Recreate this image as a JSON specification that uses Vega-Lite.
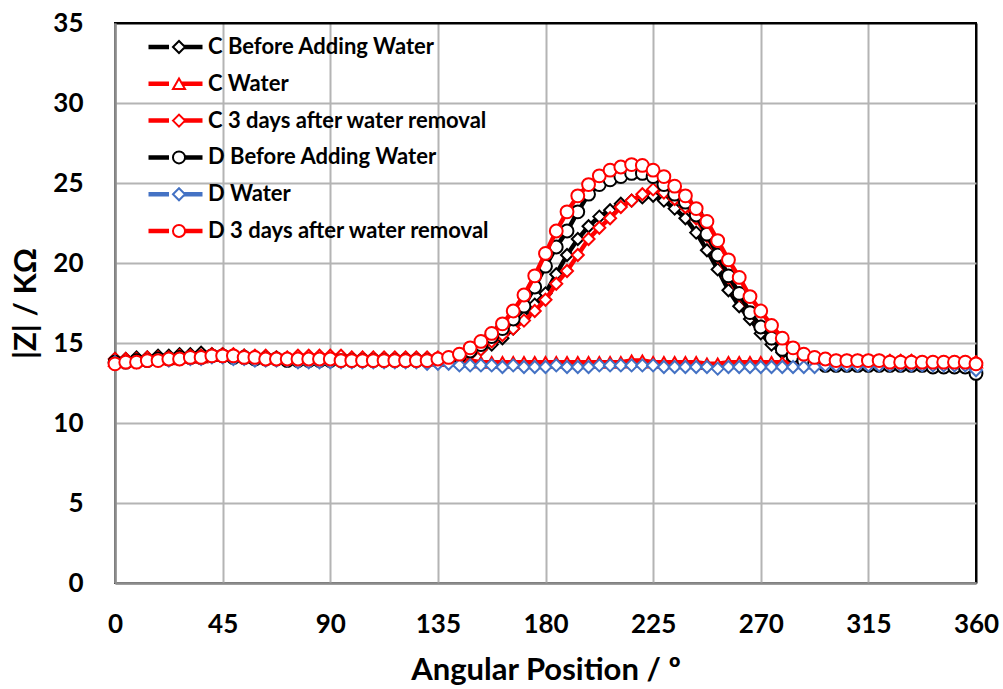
{
  "$schema": "https://vega.github.io/schema/vega-lite/v6.json",
  "width": 861,
  "height": 560,
  "autosize": {"type": "none"},
  "padding": {"left": 115, "top": 23, "right": 27, "bottom": 106},
  "background": "white",
  "config": {
    "view": {"stroke": "black", "strokeWidth": 2},
    "font": "Lato",
    "axis": {
      "labelFont": "Lato", "labelFontWeight": "bold", "labelFontSize": 26, "labelColor": "black",
      "titleFont": "Lato", "titleFontWeight": "bold", "titleFontSize": 31, "titleColor": "black",
      "ticks": false, "tickSize": 0, "labelFlush": false, "labelOverlap": false,
      "gridWidth": 2,
      "domainColor": "#8c8c8c", "domainWidth": 2.5
    }
  },
  "data": {"values": [
    {"angle": 0, "cb": 14.0, "cw": 13.9, "ca": 14.0, "db": 13.8, "dw": 13.8, "da": 13.7},
    {"angle": 4.5, "cb": 14.0, "cw": 13.9, "ca": 14.0, "db": 13.8, "dw": 13.8, "da": 13.8},
    {"angle": 9, "cb": 14.1, "cw": 13.9, "ca": 14.0, "db": 13.9, "dw": 13.8, "da": 13.8},
    {"angle": 13.5, "cb": 14.1, "cw": 14.0, "ca": 14.1, "db": 13.9, "dw": 13.9, "da": 13.9},
    {"angle": 18, "cb": 14.2, "cw": 14.0, "ca": 14.1, "db": 14.0, "dw": 13.9, "da": 13.9},
    {"angle": 22.5, "cb": 14.2, "cw": 14.0, "ca": 14.1, "db": 14.0, "dw": 13.9, "da": 14.0},
    {"angle": 27, "cb": 14.3, "cw": 14.1, "ca": 14.2, "db": 14.1, "dw": 14.0, "da": 14.0},
    {"angle": 31.5, "cb": 14.3, "cw": 14.1, "ca": 14.2, "db": 14.1, "dw": 14.0, "da": 14.1},
    {"angle": 36, "cb": 14.4, "cw": 14.1, "ca": 14.2, "db": 14.1, "dw": 14.0, "da": 14.1},
    {"angle": 40.5, "cb": 14.3, "cw": 14.2, "ca": 14.3, "db": 14.2, "dw": 14.1, "da": 14.2},
    {"angle": 45, "cb": 14.3, "cw": 14.2, "ca": 14.3, "db": 14.2, "dw": 14.1, "da": 14.2},
    {"angle": 49.5, "cb": 14.2, "cw": 14.2, "ca": 14.3, "db": 14.1, "dw": 14.0, "da": 14.2},
    {"angle": 54, "cb": 14.2, "cw": 14.2, "ca": 14.2, "db": 14.1, "dw": 14.0, "da": 14.1},
    {"angle": 58.5, "cb": 14.1, "cw": 14.1, "ca": 14.2, "db": 14.0, "dw": 13.9, "da": 14.1},
    {"angle": 63, "cb": 14.1, "cw": 14.1, "ca": 14.2, "db": 14.0, "dw": 13.9, "da": 14.0},
    {"angle": 67.5, "cb": 14.1, "cw": 14.1, "ca": 14.1, "db": 14.0, "dw": 13.9, "da": 14.0},
    {"angle": 72, "cb": 14.0, "cw": 14.1, "ca": 14.1, "db": 13.9, "dw": 13.9, "da": 14.0},
    {"angle": 76.5, "cb": 14.0, "cw": 14.1, "ca": 14.2, "db": 13.9, "dw": 13.8, "da": 14.0},
    {"angle": 81, "cb": 14.0, "cw": 14.1, "ca": 14.2, "db": 13.9, "dw": 13.8, "da": 14.0},
    {"angle": 85.5, "cb": 14.0, "cw": 14.2, "ca": 14.2, "db": 13.9, "dw": 13.8, "da": 14.0},
    {"angle": 90, "cb": 14.0, "cw": 14.2, "ca": 14.2, "db": 13.9, "dw": 13.8, "da": 14.0},
    {"angle": 94.5, "cb": 14.0, "cw": 14.1, "ca": 14.2, "db": 13.9, "dw": 13.8, "da": 13.9},
    {"angle": 99, "cb": 13.9, "cw": 14.1, "ca": 14.1, "db": 13.9, "dw": 13.8, "da": 13.9},
    {"angle": 103.5, "cb": 13.9, "cw": 14.1, "ca": 14.1, "db": 13.9, "dw": 13.8, "da": 13.9},
    {"angle": 108, "cb": 13.9, "cw": 14.1, "ca": 14.1, "db": 13.9, "dw": 13.8, "da": 13.9},
    {"angle": 112.5, "cb": 13.9, "cw": 14.0, "ca": 14.1, "db": 13.9, "dw": 13.8, "da": 13.9},
    {"angle": 117, "cb": 14.0, "cw": 14.0, "ca": 14.1, "db": 13.9, "dw": 13.8, "da": 13.9},
    {"angle": 121.5, "cb": 14.0, "cw": 14.0, "ca": 14.1, "db": 13.9, "dw": 13.8, "da": 13.9},
    {"angle": 126, "cb": 14.0, "cw": 14.0, "ca": 14.1, "db": 13.9, "dw": 13.8, "da": 13.9},
    {"angle": 130.5, "cb": 14.0, "cw": 14.0, "ca": 14.1, "db": 13.9, "dw": 13.7, "da": 13.9},
    {"angle": 135, "cb": 14.0, "cw": 13.9, "ca": 14.1, "db": 13.9, "dw": 13.7, "da": 14.0},
    {"angle": 139.5, "cb": 14.1, "cw": 13.9, "ca": 14.1, "db": 14.0, "dw": 13.7, "da": 14.1},
    {"angle": 144, "cb": 14.2, "cw": 13.9, "ca": 14.2, "db": 14.2, "dw": 13.6, "da": 14.3},
    {"angle": 148.5, "cb": 14.4, "cw": 13.9, "ca": 14.3, "db": 14.5, "dw": 13.6, "da": 14.7},
    {"angle": 153, "cb": 14.6, "cw": 13.8, "ca": 14.6, "db": 14.9, "dw": 13.6, "da": 15.1},
    {"angle": 157.5, "cb": 14.9, "cw": 13.8, "ca": 15.1, "db": 15.4, "dw": 13.6, "da": 15.6},
    {"angle": 162, "cb": 15.3, "cw": 13.8, "ca": 15.5, "db": 15.9, "dw": 13.5, "da": 16.2},
    {"angle": 166.5, "cb": 15.9, "cw": 13.8, "ca": 15.9, "db": 16.5, "dw": 13.6, "da": 17.0},
    {"angle": 171, "cb": 16.6, "cw": 13.8, "ca": 16.4, "db": 17.3, "dw": 13.5, "da": 18.0},
    {"angle": 175.5, "cb": 17.4, "cw": 13.8, "ca": 17.0, "db": 18.5, "dw": 13.5, "da": 19.2},
    {"angle": 180, "cb": 18.1, "cw": 13.8, "ca": 17.7, "db": 19.8, "dw": 13.5, "da": 20.6},
    {"angle": 184.5, "cb": 19.3, "cw": 13.8, "ca": 18.7, "db": 21.0, "dw": 13.6, "da": 22.0},
    {"angle": 189, "cb": 20.5, "cw": 13.8, "ca": 19.5, "db": 22.0, "dw": 13.5, "da": 23.2},
    {"angle": 193.5, "cb": 21.5, "cw": 13.8, "ca": 20.5, "db": 23.2, "dw": 13.5, "da": 24.2},
    {"angle": 198, "cb": 22.3, "cw": 13.8, "ca": 21.5, "db": 24.3, "dw": 13.5, "da": 24.9},
    {"angle": 202.5, "cb": 22.9, "cw": 13.8, "ca": 22.2, "db": 24.9, "dw": 13.6, "da": 25.45},
    {"angle": 207, "cb": 23.3, "cw": 13.8, "ca": 22.8, "db": 25.2, "dw": 13.6, "da": 25.8},
    {"angle": 211.5, "cb": 23.7, "cw": 13.8, "ca": 23.5, "db": 25.4, "dw": 13.6, "da": 26.0},
    {"angle": 216, "cb": 23.9, "cw": 13.9, "ca": 23.9, "db": 25.6, "dw": 13.6, "da": 26.15},
    {"angle": 220.5, "cb": 24.1, "cw": 13.9, "ca": 24.3, "db": 25.6, "dw": 13.6, "da": 26.1},
    {"angle": 225, "cb": 24.2, "cw": 13.8, "ca": 24.6, "db": 25.4, "dw": 13.6, "da": 25.8},
    {"angle": 229.5, "cb": 23.9, "cw": 13.8, "ca": 24.4, "db": 24.9, "dw": 13.5, "da": 25.4},
    {"angle": 234, "cb": 23.4, "cw": 13.8, "ca": 24.0, "db": 24.3, "dw": 13.5, "da": 24.8},
    {"angle": 238.5, "cb": 22.8, "cw": 13.8, "ca": 23.5, "db": 23.8, "dw": 13.5, "da": 24.2},
    {"angle": 243, "cb": 21.9, "cw": 13.8, "ca": 22.8, "db": 23.0, "dw": 13.5, "da": 23.4},
    {"angle": 247.5, "cb": 20.8, "cw": 13.7, "ca": 21.7, "db": 21.8, "dw": 13.5, "da": 22.6},
    {"angle": 252, "cb": 19.6, "cw": 13.7, "ca": 20.4, "db": 20.5, "dw": 13.4, "da": 21.4},
    {"angle": 256.5, "cb": 18.3, "cw": 13.8, "ca": 19.1, "db": 19.2, "dw": 13.5, "da": 20.2},
    {"angle": 261, "cb": 17.3, "cw": 13.8, "ca": 18.0, "db": 18.1, "dw": 13.5, "da": 19.1},
    {"angle": 265.5, "cb": 16.5, "cw": 13.8, "ca": 16.9, "db": 16.9, "dw": 13.5, "da": 17.9},
    {"angle": 270, "cb": 15.6, "cw": 13.8, "ca": 16.0, "db": 16.0, "dw": 13.5, "da": 17.0},
    {"angle": 274.5, "cb": 14.9, "cw": 13.8, "ca": 15.3, "db": 15.3, "dw": 13.5, "da": 16.1},
    {"angle": 279, "cb": 14.4, "cw": 13.8, "ca": 14.7, "db": 14.6, "dw": 13.5, "da": 15.3},
    {"angle": 283.5, "cb": 14.0, "cw": 13.8, "ca": 14.3, "db": 14.2, "dw": 13.5, "da": 14.7},
    {"angle": 288, "cb": 13.8, "cw": 13.8, "ca": 14.0, "db": 13.9, "dw": 13.5, "da": 14.3},
    {"angle": 292.5, "cb": 13.7, "cw": 13.8, "ca": 13.9, "db": 13.7, "dw": 13.5, "da": 14.1},
    {"angle": 297, "cb": 13.6, "cw": 13.8, "ca": 13.9, "db": 13.6, "dw": 13.6, "da": 14.0},
    {"angle": 301.5, "cb": 13.6, "cw": 13.8, "ca": 13.9, "db": 13.6, "dw": 13.6, "da": 13.9},
    {"angle": 306, "cb": 13.6, "cw": 13.8, "ca": 13.9, "db": 13.6, "dw": 13.6, "da": 13.9},
    {"angle": 310.5, "cb": 13.6, "cw": 13.8, "ca": 13.9, "db": 13.6, "dw": 13.6, "da": 13.9},
    {"angle": 315, "cb": 13.6, "cw": 13.8, "ca": 13.9, "db": 13.6, "dw": 13.6, "da": 13.9},
    {"angle": 319.5, "cb": 13.6, "cw": 13.8, "ca": 13.9, "db": 13.6, "dw": 13.6, "da": 13.9},
    {"angle": 324, "cb": 13.6, "cw": 13.8, "ca": 13.9, "db": 13.6, "dw": 13.6, "da": 13.8},
    {"angle": 328.5, "cb": 13.6, "cw": 13.8, "ca": 13.9, "db": 13.6, "dw": 13.6, "da": 13.8},
    {"angle": 333, "cb": 13.6, "cw": 13.8, "ca": 13.9, "db": 13.6, "dw": 13.6, "da": 13.8},
    {"angle": 337.5, "cb": 13.6, "cw": 13.8, "ca": 13.8, "db": 13.6, "dw": 13.6, "da": 13.8},
    {"angle": 342, "cb": 13.6, "cw": 13.8, "ca": 13.8, "db": 13.5, "dw": 13.6, "da": 13.8},
    {"angle": 346.5, "cb": 13.6, "cw": 13.8, "ca": 13.8, "db": 13.5, "dw": 13.6, "da": 13.8},
    {"angle": 351, "cb": 13.6, "cw": 13.8, "ca": 13.8, "db": 13.5, "dw": 13.6, "da": 13.8},
    {"angle": 355.5, "cb": 13.6, "cw": 13.8, "ca": 13.8, "db": 13.5, "dw": 13.6, "da": 13.8},
    {"angle": 360, "cb": 13.6, "cw": 13.8, "ca": 13.8, "db": 13.1, "dw": 13.3, "da": 13.7}
  ]},
  "transform": [
    {"fold": ["cb", "cw", "ca", "db", "dw", "da"], "as": ["series", "z"]},
    {"calculate": "'line-' + datum.series", "as": "trace"}
  ],
  "encoding": {
    "x": {
      "field": "angle", "type": "quantitative",
      "scale": {"domain": [0, 360], "nice": false, "zero": false},
      "axis": {
        "values": [0, 45, 90, 135, 180, 225, 270, 315, 360],
        "title": "Angular Position / º",
        "labelPadding": 28, "titlePadding": 18,
        "gridColor": {"condition": {"test": "datum.value == 360", "value": "black"}, "value": "#b4b4b4"}
      }
    },
    "y": {
      "field": "z", "type": "quantitative",
      "scale": {"domain": [0, 35], "nice": false},
      "axis": {
        "values": [0, 5, 10, 15, 20, 25, 30, 35],
        "title": "|Z|  /  KΩ",
        "labelPadding": 32, "titlePadding": 10,
        "gridColor": {"condition": {"test": "datum.value == 35", "value": "black"}, "value": "#b4b4b4"}
      }
    }
  },
  "layer": [
    {
      "transform": [{"filter": "datum.series === 'cb'"}],
      "layer": [
        {"mark": {"type": "line", "strokeWidth": 4.5},
         "encoding": {"stroke": {"field": "trace", "type": "nominal",
           "scale": {"domain": ["line-cb", "line-cw", "line-ca", "line-db", "line-dw", "line-da"], "range": ["#000000", "#ff0000", "#ff0000", "#000000", "#4472c4", "#ff0000"]},
           "legend": {"orient": "none", "legendX": 31, "legendY": 12, "title": null, "padding": 0,
             "symbolType": "M-1,0H-0.24M0.24,0H1", "symbolSize": 2916, "symbolStrokeWidth": 4.5,
             "clipHeight": 24, "rowPadding": 12.8, "labelExpr": "''", "labelFontSize": 20}}}},
        {"mark": {"type": "point", "filled": false, "fill": "white", "strokeWidth": 2, "size": 145, "opacity": 1},
         "encoding": {
           "color": {"field": "series", "type": "nominal",
             "scale": {"domain": ["cb", "cw", "ca", "db", "dw", "da"], "range": ["#000000", "#ff0000", "#ff0000", "#000000", "#4472c4", "#ff0000"]},
             "legend": {"orient": "none", "legendX": 53, "legendY": 12, "title": null, "padding": 0,
               "symbolSize": 145, "symbolStrokeWidth": 2, "symbolFillColor": "white", "symbolOpacity": 1,
               "clipHeight": 24, "rowPadding": 12.8, "labelOffset": 18,
               "labelFont": "Lato", "labelFontWeight": "bold", "labelFontSize": 22, "labelColor": "black", "labelLimit": 500,
               "labelExpr": "datum.value == 'cb' ? 'C Before Adding Water' : datum.value == 'cw' ? 'C Water' : datum.value == 'ca' ? 'C 3 days after water removal' : datum.value == 'db' ? 'D Before Adding Water' : datum.value == 'dw' ? 'D Water' : 'D 3 days after water removal'"}},
           "shape": {"field": "series", "type": "nominal",
             "scale": {"domain": ["cb", "cw", "ca", "db", "dw", "da"], "range": ["diamond", "triangle-up", "diamond", "circle", "diamond", "circle"]},
             "legend": {"orient": "none", "legendX": 53, "legendY": 12, "title": null, "padding": 0,
               "symbolSize": 145, "symbolStrokeWidth": 2, "symbolFillColor": "white", "symbolOpacity": 1,
               "clipHeight": 24, "rowPadding": 12.8, "labelOffset": 18,
               "labelFont": "Lato", "labelFontWeight": "bold", "labelFontSize": 22, "labelColor": "black", "labelLimit": 500,
               "labelExpr": "datum.value == 'cb' ? 'C Before Adding Water' : datum.value == 'cw' ? 'C Water' : datum.value == 'ca' ? 'C 3 days after water removal' : datum.value == 'db' ? 'D Before Adding Water' : datum.value == 'dw' ? 'D Water' : 'D 3 days after water removal'"}}}}
      ]
    },
    {
      "transform": [{"filter": "datum.series === 'cw'"}],
      "layer": [
        {"mark": {"type": "line", "strokeWidth": 4.5},
         "encoding": {"stroke": {"field": "trace", "type": "nominal", "scale": {"domain": ["line-cb", "line-cw", "line-ca", "line-db", "line-dw", "line-da"]}}}},
        {"mark": {"type": "point", "filled": false, "fill": "white", "strokeWidth": 2, "size": 145, "opacity": 1},
         "encoding": {"color": {"field": "series", "type": "nominal", "scale": {"domain": ["cb", "cw", "ca", "db", "dw", "da"]}},
                      "shape": {"field": "series", "type": "nominal", "scale": {"domain": ["cb", "cw", "ca", "db", "dw", "da"]}}}}
      ]
    },
    {
      "transform": [{"filter": "datum.series === 'ca'"}],
      "layer": [
        {"mark": {"type": "line", "strokeWidth": 4.5},
         "encoding": {"stroke": {"field": "trace", "type": "nominal", "scale": {"domain": ["line-cb", "line-cw", "line-ca", "line-db", "line-dw", "line-da"]}}}},
        {"mark": {"type": "point", "filled": false, "fill": "white", "strokeWidth": 2, "size": 145, "opacity": 1},
         "encoding": {"color": {"field": "series", "type": "nominal", "scale": {"domain": ["cb", "cw", "ca", "db", "dw", "da"]}},
                      "shape": {"field": "series", "type": "nominal", "scale": {"domain": ["cb", "cw", "ca", "db", "dw", "da"]}}}}
      ]
    },
    {
      "transform": [{"filter": "datum.series === 'db'"}],
      "layer": [
        {"mark": {"type": "line", "strokeWidth": 4.5},
         "encoding": {"stroke": {"field": "trace", "type": "nominal", "scale": {"domain": ["line-cb", "line-cw", "line-ca", "line-db", "line-dw", "line-da"]}}}},
        {"mark": {"type": "point", "filled": false, "fill": "white", "strokeWidth": 2, "size": 165, "opacity": 1},
         "encoding": {"color": {"field": "series", "type": "nominal", "scale": {"domain": ["cb", "cw", "ca", "db", "dw", "da"]}},
                      "shape": {"field": "series", "type": "nominal", "scale": {"domain": ["cb", "cw", "ca", "db", "dw", "da"]}}}}
      ]
    },
    {
      "transform": [{"filter": "datum.series === 'dw'"}],
      "layer": [
        {"mark": {"type": "line", "strokeWidth": 4.5},
         "encoding": {"stroke": {"field": "trace", "type": "nominal", "scale": {"domain": ["line-cb", "line-cw", "line-ca", "line-db", "line-dw", "line-da"]}}}},
        {"mark": {"type": "point", "filled": false, "fill": "white", "strokeWidth": 2, "size": 145, "opacity": 1},
         "encoding": {"color": {"field": "series", "type": "nominal", "scale": {"domain": ["cb", "cw", "ca", "db", "dw", "da"]}},
                      "shape": {"field": "series", "type": "nominal", "scale": {"domain": ["cb", "cw", "ca", "db", "dw", "da"]}}}}
      ]
    },
    {
      "transform": [{"filter": "datum.series === 'da'"}],
      "layer": [
        {"mark": {"type": "line", "strokeWidth": 4.5},
         "encoding": {"stroke": {"field": "trace", "type": "nominal", "scale": {"domain": ["line-cb", "line-cw", "line-ca", "line-db", "line-dw", "line-da"]}}}},
        {"mark": {"type": "point", "filled": false, "fill": "white", "strokeWidth": 2, "size": 165, "opacity": 1},
         "encoding": {"color": {"field": "series", "type": "nominal", "scale": {"domain": ["cb", "cw", "ca", "db", "dw", "da"]}},
                      "shape": {"field": "series", "type": "nominal", "scale": {"domain": ["cb", "cw", "ca", "db", "dw", "da"]}}}}
      ]
    }
  ]
}
